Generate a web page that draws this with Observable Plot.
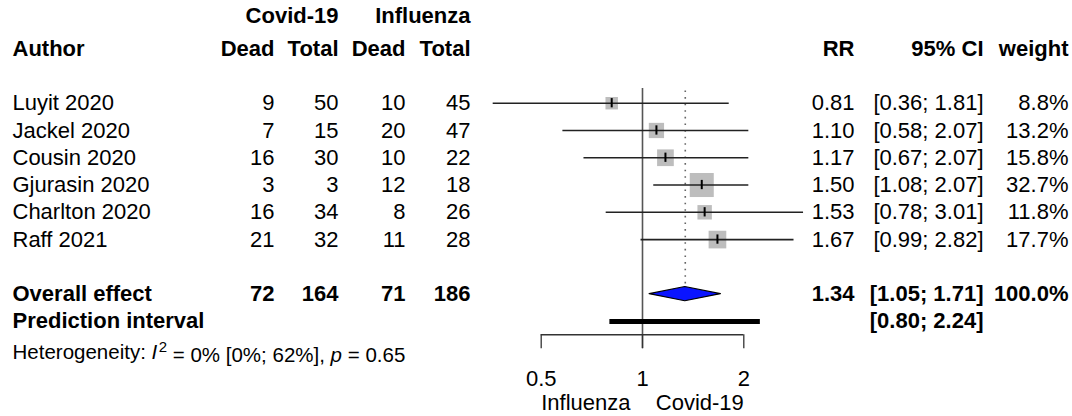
<!DOCTYPE html>
<html>
<head>
<meta charset="utf-8">
<script src="https://cdn.jsdelivr.net/npm/d3@7"></script>
<script src="https://cdn.jsdelivr.net/npm/@observablehq/plot@0.6"></script>
<style>
  html, body { margin: 0; padding: 0; background: #fff; }
  #chart { width: 1072px; height: 416px; }
</style>
</head>
<body>
<div id="chart"></div>
<script>
// ---- data ----
const authors = ["Luyit 2020", "Jackel 2020", "Cousin 2020", "Gjurasin 2020", "Charlton 2020", "Raff 2021"];
const covidDead = [9, 7, 16, 3, 16, 21];
const covidTotal = [50, 15, 30, 3, 34, 32];
const fluDead = [10, 20, 10, 12, 8, 11];
const fluTotal = [45, 47, 22, 18, 26, 28];
const rr = [0.81, 1.10, 1.17, 1.50, 1.53, 1.67];
const lower = [0.36, 0.58, 0.67, 1.08, 0.78, 0.99];
const upper = [1.81, 2.07, 2.07, 2.07, 3.01, 2.82];
const weight = [8.8, 13.2, 15.8, 32.7, 11.8, 17.7];
const overallTotals = [72, 164, 71, 186];
const overallEffect = [1.34, 1.05, 1.71, 100.0]; // RR, lower, upper, weight
const predictionInterval = [0.80, 2.24];
const heterogeneity = ["0%", "[0%; 62%]", "0.65"]; // I2, CI, p
const axisTicks = [0.5, 1, 2];
const sideLabels = ["Influenza", "Covid-19"];
const headerGroups = ["Covid-19", "Influenza"];
const headerCols = ["Author", "Dead", "Total", "Dead", "Total", "RR", "95% CI", "weight"];
const rowLabels = ["Overall effect", "Prediction interval"];

// ---- table built from the arrays ----
const rows = authors.map((a, i) => ({
  row: i + 1, author: a, cd: covidDead[i], ct: covidTotal[i], fd: fluDead[i], ft: fluTotal[i],
  rr: rr[i], lower: lower[i], upper: upper[i], weight: weight[i]
}));
const overallRow = 8, predRow = 9;
const overall = {row: overallRow, rr: overallEffect[0], lower: overallEffect[1], upper: overallEffect[2], weight: overallEffect[3]};
const fmt2 = v => v.toFixed(2);
const ci = (l, u) => `[${fmt2(l)}; ${fmt2(u)}]`;
const wfmt = w => `${w.toFixed(1)}%`;

// ---- layout (pixel offsets of the text columns) ----
const FONT = "'Liberation Sans', Arial, Helvetica, sans-serif";
const colRight = {cd: 274, ct: 338, fd: 405, ft: 470, rr: 854, ci: 983, w: 1068};
const leftPad = 12;
const H1 = -2.2, H2 = -1;

function col(data, text, right, extra = {}) {
  return Plot.text(data, {frameAnchor: "left", dx: right, textAnchor: "end", y: "row", text, fill: "#000", ...extra});
}
function leftText(data, text, extra = {}) {
  return Plot.text(data, {frameAnchor: "left", dx: leftPad, textAnchor: "start", y: "row", text, fill: "#000", ...extra});
}

const diamondHalf = 0.26;
const diamond = [
  {y: overall.row - diamondHalf, x1: overall.rr, x2: overall.rr},
  {y: overall.row, x1: overall.lower, x2: overall.upper},
  {y: overall.row + diamondHalf, x1: overall.rr, x2: overall.rr}
];

const headerRow1 = [{row: H1, t: headerGroups[0], k: "ct"}, {row: H1, t: headerGroups[1], k: "ft"}];
const headerRow2 = [
  {row: H2, t: headerCols[1], k: "cd"}, {row: H2, t: headerCols[2], k: "ct"},
  {row: H2, t: headerCols[3], k: "fd"}, {row: H2, t: headerCols[4], k: "ft"},
  {row: H2, t: headerCols[5], k: "rr"}, {row: H2, t: headerCols[6], k: "ci"},
  {row: H2, t: headerCols[7], k: "w"}
];
const overallCells = [
  {row: overallRow, t: String(overallTotals[0]), k: "cd"}, {row: overallRow, t: String(overallTotals[1]), k: "ct"},
  {row: overallRow, t: String(overallTotals[2]), k: "fd"}, {row: overallRow, t: String(overallTotals[3]), k: "ft"},
  {row: overallRow, t: fmt2(overall.rr), k: "rr"}, {row: overallRow, t: ci(overall.lower, overall.upper), k: "ci"},
  {row: overallRow, t: wfmt(overall.weight), k: "w"},
  {row: predRow, t: ci(predictionInterval[0], predictionInterval[1]), k: "ci"}
];

const axisY = 9.49, tickEnd = 10.0, tickLabelY = 11.1, sideLabelY = 12.0;

const marks = [
  // reference lines
  Plot.ruleX([1], {x: d => d, y1: () => 0.46, y2: () => tickEnd, stroke: "#555", strokeWidth: 1.6}),
  Plot.ruleX([overall], {x: "rr", y1: () => 0.55, y2: () => overall.row - diamondHalf - 0.05, stroke: "#666", strokeWidth: 1.6, strokeDasharray: "1.6,5"}),
  // study squares, CI lines, centre ticks
  Plot.dot(rows, {x: "rr", y: "row", r: "weight", symbol: "square", fill: "#bdbdbd", stroke: "none"}),
  Plot.ruleY(rows, {y: "row", x1: "lower", x2: "upper", stroke: "#222", strokeWidth: 1.6}),
  Plot.ruleX(rows, {x: "rr", y1: d => d.row - 0.17, y2: d => d.row + 0.17, stroke: "#000", strokeWidth: 2}),
  // diamond
  Plot.areaX(diamond, {y: "y", x1: "x1", x2: "x2", fill: "#0a14ff", stroke: "#000", strokeWidth: 1.2}),
  // prediction interval
  Plot.ruleY([{row: predRow, l: predictionInterval[0], u: predictionInterval[1]}], {y: "row", x1: "l", x2: "u", stroke: "#000", strokeWidth: 5}),
  // axis
  Plot.ruleY([{y: axisY, a: d3.min(axisTicks), b: d3.max(axisTicks)}], {y: "y", x1: "a", x2: "b", stroke: "#333", strokeWidth: 1.3}),
  Plot.ruleX(axisTicks, {x: d => d, y1: () => axisY, y2: () => tickEnd, stroke: "#333", strokeWidth: 1.3}),
  Plot.text(axisTicks, {x: d => d, y: () => tickLabelY, text: d => String(d), fill: "#000"}),
  Plot.text([{x: d3.min(axisTicks), t: sideLabels[0]}], {x: "x", y: () => sideLabelY, text: "t", textAnchor: "start", fill: "#000"}),
  Plot.text([{x: d3.max(axisTicks), t: sideLabels[1]}], {x: "x", y: () => sideLabelY, text: "t", textAnchor: "end", fill: "#000"}),
  // headers
  ...headerRow1.map(h => col([h], "t", colRight[h.k], {fontWeight: "bold"})),
  ...headerRow2.map(h => col([h], "t", colRight[h.k], {fontWeight: "bold"})),
  leftText([{row: H2}], () => headerCols[0], {fontWeight: "bold"}),
  // study rows
  leftText(rows, "author"),
  col(rows, d => String(d.cd), colRight.cd),
  col(rows, d => String(d.ct), colRight.ct),
  col(rows, d => String(d.fd), colRight.fd),
  col(rows, d => String(d.ft), colRight.ft),
  col(rows, d => fmt2(d.rr), colRight.rr),
  col(rows, d => ci(d.lower, d.upper), colRight.ci),
  col(rows, d => wfmt(d.weight), colRight.w),
  // overall rows
  leftText([{row: overallRow}], () => rowLabels[0], {fontWeight: "bold"}),
  leftText([{row: predRow}], () => rowLabels[1], {fontWeight: "bold"}),
  ...overallCells.map(c => col([c], "t", colRight[c.k], {fontWeight: "bold"})),
  // heterogeneity
  leftText([{row: 10.15}], () => `Heterogeneity: I2 = ${heterogeneity[0]} ${heterogeneity[1]}, p = ${heterogeneity[2]}`, {fontSize: 20.5, className: "het"})
];

const chart = Plot.plot({
  width: 1072, height: 416, margin: 0,
  x: {type: "log", domain: [0.5, 2], range: [540.7, 743.3], axis: null},
  y: {type: "linear", domain: [1, 9], range: [102.7, 320.9], axis: null},
  r: {type: "sqrt", domain: [0, 100], range: [0, 23.7]},
  style: {fontFamily: FONT, fontSize: "22px", background: "#fff", color: "#000", overflow: "visible"},
  marks
});

// rich text for the heterogeneity line (italic I, superscript 2, italic p)
const het = d3.select(chart).select("g.het text");
if (!het.empty()) {
  het.text(null);
  het.append("tspan").text("Heterogeneity: ");
  het.append("tspan").attr("font-style", "italic").text("I");
  het.append("tspan").attr("font-size", 15).attr("dx", "0.1em").attr("dy", "-0.5em").text("2");
  het.append("tspan").attr("dy", "0.5em").text(` = ${heterogeneity[0]} ${heterogeneity[1]}, `);
  het.append("tspan").attr("font-style", "italic").text("p");
  het.append("tspan").text(` = ${heterogeneity[2]}`);
}

document.getElementById("chart").append(chart);
</script>
</body>
</html>
